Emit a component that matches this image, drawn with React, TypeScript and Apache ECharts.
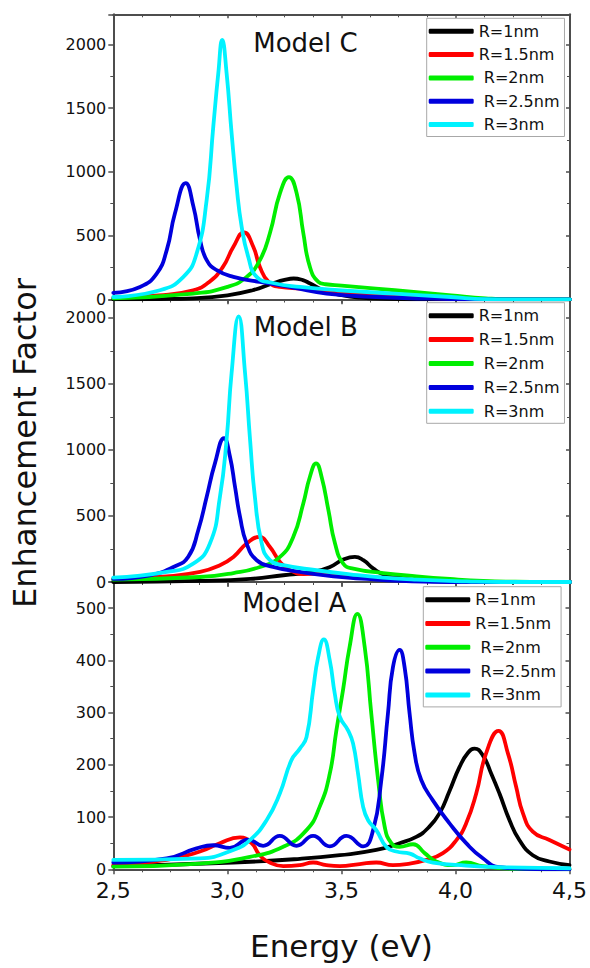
import React, { useEffect, useRef } from "react";
import * as echarts from "echarts";

// ---------- data ----------
const seriesNames = ["R=1nm", "R=1.5nm", "R=2nm", "R=2.5nm", "R=3nm"];
const seriesColors = ["#000000", "#ff0000", "#00ee00", "#0000dd", "#00f2ff"];
const xTicks = [2.5, 3.0, 3.5, 4.0, 4.5];
const panelTitles = ["Model C", "Model B", "Model A"];

// Model C (top panel)
const modelC_R1 = [[2.5,0],[2.7,2],[2.85,8],[3.0,31],[3.11,71],[3.2,126],[3.25,152],[3.29,163],[3.33,150],[3.36,126],[3.42,71],[3.5,33],[3.58,13],[3.7,3],[3.8,0],[4.5,0]];
const modelC_R15 = [[2.5,13],[2.7,31],[2.85,71],[2.92,136],[2.98,254],[3.026,412],[3.072,525],[3.113,412],[3.142,254],[3.18,136],[3.23,97],[3.32,84],[3.43,71],[3.55,45],[3.73,24],[3.98,5],[4.2,0],[4.5,0]];
const modelC_R2 = [[2.5,8],[2.85,45],[3.0,97],[3.084,176],[3.142,307],[3.186,520],[3.23,832],[3.269,958],[3.303,832],[3.332,520],[3.361,254],[3.398,136],[3.43,118],[3.5,108],[3.65,84],[3.815,58],[3.98,31],[4.13,8],[4.23,0],[4.5,0]];
const modelC_R25 = [[2.5,50],[2.617,97],[2.69,202],[2.734,386],[2.77,675],[2.817,911],[2.851,727],[2.88,465],[2.909,307],[2.953,228],[3.026,176],[3.142,136],[3.288,92],[3.434,45],[3.65,18],[3.98,2],[4.1,0],[4.5,0]];
const modelC_R3 = [[2.5,18],[2.704,71],[2.807,176],[2.865,360],[2.909,780],[2.938,1357],[2.96,1777],[2.977,2034],[2.996,1777],[3.018,1304],[3.04,884],[3.062,570],[3.091,333],[3.128,176],[3.2,128],[3.318,97],[3.485,71],[3.732,45],[3.979,18],[4.128,2],[4.25,0],[4.5,0]];

// Model B (middle panel)
const modelB_R1 = [[2.5,0],[2.88,8],[3.1,23],[3.245,51],[3.376,76],[3.449,114],[3.507,170],[3.558,190],[3.595,165],[3.639,101],[3.682,58],[3.755,33],[3.828,13],[3.97,3],[4.1,0],[4.5,0]];
const modelB_R15 = [[2.5,23],[2.734,43],[2.88,76],[2.967,127],[3.026,190],[3.084,291],[3.139,341],[3.186,265],[3.23,152],[3.274,89],[3.332,60],[3.4,62],[3.5,55],[3.58,43],[3.755,23],[3.9,8],[4.05,2],[4.2,0],[4.5,0]];
const modelB_R2 = [[2.5,18],[2.88,38],[3.026,68],[3.142,114],[3.23,190],[3.288,341],[3.332,595],[3.361,797],[3.388,898],[3.412,797],[3.442,544],[3.471,291],[3.507,139],[3.551,101],[3.682,68],[3.828,43],[3.974,23],[4.12,8],[4.26,2],[4.4,0],[4.5,0]];
const modelB_R25 = [[2.5,23],[2.66,51],[2.763,114],[2.828,190],[2.872,392],[2.909,645],[2.945,898],[2.985,1088],[3.011,948],[3.033,721],[3.055,493],[3.084,291],[3.128,165],[3.2,114],[3.318,76],[3.464,43],[3.61,23],[3.755,8],[3.9,2],[4.05,0],[4.5,0]];
const modelB_R3 = [[2.5,33],[2.734,76],[2.85,139],[2.923,291],[2.967,645],[2.996,1075],[3.018,1581],[3.049,2011],[3.077,1581],[3.099,1075],[3.12,645],[3.15,291],[3.186,165],[3.245,127],[3.39,89],[3.536,58],[3.682,33],[3.828,18],[4.047,5],[4.2,0],[4.5,0]];

// Model A (bottom panel)
const modelA_R1 = [[2.5,6],[3.026,13],[3.318,20],[3.493,27],[3.653,37],[3.755,50],[3.828,62],[3.88,79],[3.93,107],[3.974,150],[4.018,196],[4.055,223],[4.084,231],[4.12,218],[4.157,183],[4.193,145],[4.237,94],[4.28,56],[4.339,27],[4.412,15],[4.5,8]];
const modelA_R15 = [[2.5,8],[2.734,18],[2.88,34],[2.967,50],[3.055,61],[3.106,50],[3.142,27],[3.186,13],[3.245,6],[3.318,8],[3.376,13],[3.434,8],[3.493,6],[3.58,10],[3.653,13],[3.726,8],[3.785,10],[3.872,18],[3.945,31],[4.004,56],[4.047,88],[4.091,145],[4.135,223],[4.189,265],[4.23,222],[4.266,158],[4.296,107],[4.339,72],[4.412,56],[4.5,38]];
const modelA_R2 = [[2.5,5],[2.88,11],[3.099,24],[3.245,43],[3.347,75],[3.405,120],[3.449,183],[3.478,266],[3.507,343],[3.536,426],[3.57,489],[3.602,426],[3.631,298],[3.661,171],[3.69,81],[3.719,50],[3.755,43],[3.814,48],[3.865,31],[3.916,15],[3.989,8],[4.047,13],[4.12,6],[4.25,1],[4.5,0]];
const modelA_R25 = [[2.5,13],[2.734,21],[2.865,40],[2.938,46],[3.011,41],[3.091,57],[3.157,45],[3.23,64],[3.303,45],[3.376,64],[3.449,44],[3.522,64],[3.595,44],[3.639,75],[3.675,171],[3.704,298],[3.726,387],[3.755,420],[3.777,387],[3.799,298],[3.821,222],[3.85,171],[3.901,132],[3.974,88],[4.047,50],[4.12,21],[4.193,4],[4.3,1],[4.5,0]];
const modelA_R3 = [[2.5,18],[2.88,21],[3.026,37],[3.099,56],[3.172,94],[3.23,145],[3.281,209],[3.318,231],[3.347,253],[3.376,343],[3.398,406],[3.423,440],[3.449,400],[3.471,336],[3.493,292],[3.529,266],[3.551,241],[3.573,183],[3.595,120],[3.617,94],[3.653,75],[3.697,43],[3.741,34],[3.8,30],[3.843,21],[3.901,13],[4.047,7],[4.193,4],[4.5,2]];

const panelData = [
  [modelC_R1, modelC_R15, modelC_R2, modelC_R25, modelC_R3],
  [modelB_R1, modelB_R15, modelB_R2, modelB_R25, modelB_R3],
  [modelA_R1, modelA_R15, modelA_R2, modelA_R25, modelA_R3],
];
const yMax = [2235, 2140, 550];
const yInterval = [500, 500, 100];

// ---------- layout ----------
const FONT = "DejaVu Sans";
const AX = "#4d4d4d";
const gridTop = [14.3, 299.3, 582];
const gridHeight = [285, 282.7, 287.3];
const legendLeft = [426.7, 426.7, 423.3];
const legendTop = [18.3, 302.7, 586.7];
const legendGap = [3.3, 3.9, 3.8];
const titlePos = [[305.5, 42.5], [305.8, 327], [294.2, 602.5]];

export default function App() {
  const ref = useRef<HTMLDivElement>(null);
  useEffect(() => {
    document.body.style.margin = "0";
    if (!ref.current) return;
    const chart = echarts.init(ref.current, null, { renderer: "svg" });

    const grid: any[] = [];
    const xAxis: any[] = [];
    const yAxis: any[] = [];
    const series: any[] = [];
    const legend: any[] = [];
    for (let p = 0; p < 3; p++) {
      grid.push({ left: 113.3, width: 456.7, top: gridTop[p], height: gridHeight[p] });
      const common = {
        gridIndex: p, type: "value", min: 2.5, max: 4.5, interval: 0.5,
        axisLine: { show: true, onZero: false, lineStyle: { color: AX, width: 2 } },
        splitLine: { show: false },
      };
      xAxis.push({
        ...common, position: "bottom",
        axisTick: { show: true, inside: false, length: 5, lineStyle: { color: AX, width: 1.5 } },
        minorTick: { show: true, splitNumber: 4, length: 3, lineStyle: { color: AX, width: 1 } },
        axisLabel: {
          show: p === 2, fontSize: 22, fontFamily: FONT, color: "#111", margin: 10,
          formatter: (v: number) => (xTicks.some((t) => Math.abs(t - v) < 1e-6) ? v.toFixed(1).replace(".", ",") : ""),
        },
      });
      xAxis.push({
        ...common, position: "top",
        axisTick: { show: true, inside: true, length: 4, lineStyle: { color: AX, width: 1.5 } },
        minorTick: { show: true, splitNumber: 4, length: 3, lineStyle: { color: AX, width: 1 } },
        axisLabel: { show: false },
      });
      const yCommon = {
        gridIndex: p, type: "value", min: 0, max: yMax[p], interval: yInterval[p],
        axisLine: { show: true, onZero: false, lineStyle: { color: AX, width: 2 } },
        splitLine: { show: false },
      };
      yAxis.push({
        ...yCommon, position: "left",
        axisTick: { show: true, inside: false, length: 5, lineStyle: { color: AX, width: 1.5 } },
        minorTick: { show: true, splitNumber: 2, length: 3, lineStyle: { color: AX, width: 1 } },
        axisLabel: {
          fontSize: 16, fontFamily: FONT, color: "#111", margin: 7, showMaxLabel: false,
          formatter: (v: number) => (v % yInterval[p] === 0 ? String(v) : ""),
        },
      });
      yAxis.push({
        ...yCommon, position: "right",
        axisTick: { show: true, inside: true, length: 4, lineStyle: { color: AX, width: 1.5 } },
        minorTick: { show: true, splitNumber: 2, length: 3, lineStyle: { color: AX, width: 1 } },
        axisLabel: { show: false },
      });
      for (let s = 0; s < 5; s++) {
        series.push({
          type: "line", name: seriesNames[s], xAxisIndex: 2 * p, yAxisIndex: 2 * p,
          data: panelData[p][s], showSymbol: false, symbol: "none",
          smooth: 0.5, clip: true,
          lineStyle: { color: seriesColors[s], width: 3.8, cap: "round", join: "round" },
          itemStyle: { color: seriesColors[s] },
          z: 2 + s,
        });
      }
      legend.push({
        orient: "vertical", left: legendLeft[p], top: legendTop[p],
        data: seriesNames, icon: "roundRect", itemWidth: 45, itemHeight: 5,
        itemGap: legendGap[p], padding: [3, 5, 2, 2], selectedMode: false,
        backgroundColor: "#ffffff", borderColor: "#a8a8a8", borderWidth: 1,
        textStyle: { fontSize: 16, fontFamily: FONT, color: "#111", lineHeight: 20 },
        formatter: (n: string) => (n === "R=1nm" || n === "R=1.5nm" ? n : "\u00a0" + n),
        z: 10,
      });
    }

    const graphic: any[] = panelTitles.map((t, i) => ({
      type: "text", x: titlePos[i][0], y: titlePos[i][1], z: 20,
      style: { text: t, fontSize: 26, fontFamily: FONT, fill: "#111", align: "center", verticalAlign: "middle" },
    }));
    graphic.push({
      type: "text", x: 25, y: 443, rotation: Math.PI / 2, z: 20,
      style: { text: "Enhancement Factor", fontSize: 32, fontFamily: FONT, fill: "#111", align: "center", verticalAlign: "middle" },
    });
    graphic.push({
      type: "text", x: 341.5, y: 946, z: 20,
      style: { text: "Energy (eV)", fontSize: 31, fontFamily: FONT, fill: "#111", align: "center", verticalAlign: "middle" },
    });

    chart.setOption({
      animation: false,
      backgroundColor: "#ffffff",
      grid, xAxis, yAxis, series, legend, graphic,
    });
    return () => chart.dispose();
  }, []);
  return <div ref={ref} style={{ width: 590, height: 968 }} />;
}
